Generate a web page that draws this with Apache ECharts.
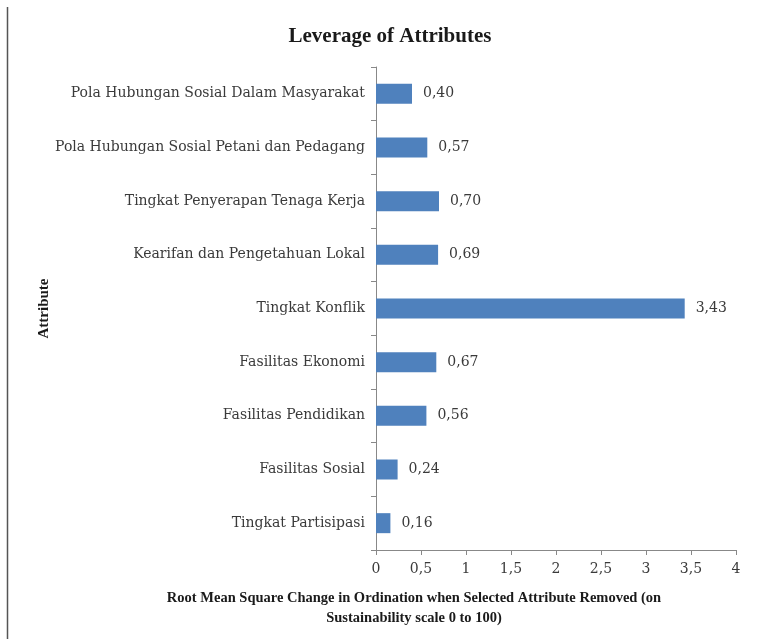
<!DOCTYPE html>
<html>
<head>
<meta charset="utf-8">
<script src="https://cdn.jsdelivr.net/npm/echarts@6/dist/echarts.min.js"></script>
<style>
  html, body { margin: 0; padding: 0; background: #fff; }
  #chart { width: 772px; height: 639px; }
</style>
</head>
<body>
<div id="chart"></div>
<script>
// Attributes listed top to bottom
const attributes = [
  'Pola Hubungan Sosial Dalam Masyarakat',
  'Pola Hubungan Sosial Petani dan Pedagang',
  'Tingkat Penyerapan Tenaga Kerja',
  'Kearifan dan Pengetahuan Lokal',
  'Tingkat Konflik',
  'Fasilitas Ekonomi',
  'Fasilitas Pendidikan',
  'Fasilitas Sosial',
  'Tingkat Partisipasi'
];
// RMS change per attribute
const rmsValues = [0.40, 0.57, 0.70, 0.69, 3.43, 0.67, 0.56, 0.24, 0.16];

const xMin = 0, xMax = 4, xStep = 0.5;

const serif = '"DejaVu Serif", serif';
const times = '"Liberation Serif", "Times New Roman", serif';
const textColor = '#3a3a3a';
const axisColor = '#888888';

const toComma = (v, digits) => (digits === undefined ? String(v) : v.toFixed(digits)).replace('.', ',');

const chart = echarts.init(document.getElementById('chart'), null, { renderer: 'canvas' });
chart.setOption({
  backgroundColor: '#ffffff',
  animation: false,
  title: {
    text: 'Leverage of Attributes',
    left: 385,
    textAlign: 'center',
    top: 21,
    textStyle: { fontFamily: times, fontWeight: 'bold', fontSize: 21, color: '#1a1a1a' }
  },
  grid: { left: 376, right: 36, top: 67, bottom: 89, containLabel: false },
  xAxis: {
    type: 'value',
    min: xMin,
    max: xMax,
    interval: xStep,
    axisLine: { show: true, lineStyle: { color: axisColor, width: 1 } },
    axisTick: { show: true, length: 5, lineStyle: { color: axisColor } },
    splitLine: { show: false },
    axisLabel: {
      margin: 12,
      fontFamily: serif,
      fontSize: 14,
      color: textColor,
      formatter: v => toComma(v)
    }
  },
  yAxis: {
    type: 'category',
    data: attributes,
    inverse: true,
    name: 'Attribute',
    nameLocation: 'middle',
    nameRotate: 90,
    nameGap: 324,
    nameTextStyle: { fontFamily: times, fontWeight: 'bold', fontSize: 15, color: '#1a1a1a' },
    axisLine: { show: true, lineStyle: { color: axisColor, width: 1 } },
    axisTick: { show: true, length: 5, lineStyle: { color: axisColor } },
    axisLabel: { margin: 11, fontFamily: serif, fontSize: 14, color: textColor }
  },
  series: [{
    type: 'bar',
    data: rmsValues,
    barWidth: 20,
    itemStyle: { color: '#4f81bd' },
    label: {
      show: true,
      position: 'right',
      distance: 11,
      fontFamily: serif,
      fontSize: 14,
      color: textColor,
      formatter: p => toComma(p.value, 2)
    }
  }],
  graphic: [
    {
      type: 'line',
      shape: { x1: 7.5, y1: 7, x2: 7.5, y2: 639 },
      style: { stroke: '#555555', lineWidth: 1.5 }
    },
    {
      type: 'text',
      x: 414,
      y: 608,
      style: {
        text: 'Root Mean Square Change in Ordination when Selected Attribute Removed (on\nSustainability scale 0 to 100)',
        font: 'bold 14.5px ' + times,
        fill: '#1a1a1a',
        textAlign: 'center',
        textVerticalAlign: 'middle',
        lineHeight: 20
      }
    }
  ]
});
</script>
</body>
</html>
